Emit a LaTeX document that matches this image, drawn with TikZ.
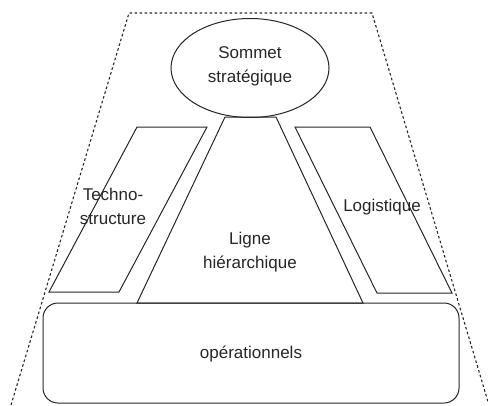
\documentclass[tikz,border=0pt]{standalone}
\usepackage{fontspec}
\setmainfont{Liberation Sans}
\usetikzlibrary{arrows}

\tikzset{
  part/.style={draw=black!85, line width=1pt, line join=miter},
  label/.style={align=center, text=black!85, font=\fontsize{17}{24}\selectfont, inner sep=0pt}
}

\begin{document}
\begin{tikzpicture}[x=1pt,y=-1pt]
                      \useasboundingbox (0,0) rectangle (488,405);
                      % Draw dotted outline
                      \draw[black!85, line width=1.1pt, dash pattern=on 2.6pt off 2.4pt]
                          (11,405) -- (129,13) -- (372,13) -- (489,405);
                      % Draw Sommet
                      \draw[part] (250,68) ellipse (79 and 49.5);
                      % Draw Ligne
                      \draw[part] (225,117) -- (276,117) -- (363,303) -- (137,303) -- cycle;
                      % Draw Techno-structure
                      \draw[part] (137,127) -- (207,127) -- (119,292) -- (49,292) -- cycle;
                      % Draw Logistique
                      \draw[part] (295,127) -- (370,127) -- (452,293) -- (377,293) -- cycle;
                      % Draw base
                      \draw[part, rounded corners=15pt] (43,303) rectangle (459,403);
                      \node[label] (sommet) at (250,66) {Sommet\\strat\'egique};
                      \node[label] (techno) at (113,206) {Techno-\\structure};
                      \node[label] (logistique) at (382,207) {Logistique};
                      \node[label] (ligne) at (250,252) {Ligne\\hi\'erarchique};
                      \node[label] (centre) at (251,354) {op\'erationnels};
                  \end{tikzpicture}
\end{document}
